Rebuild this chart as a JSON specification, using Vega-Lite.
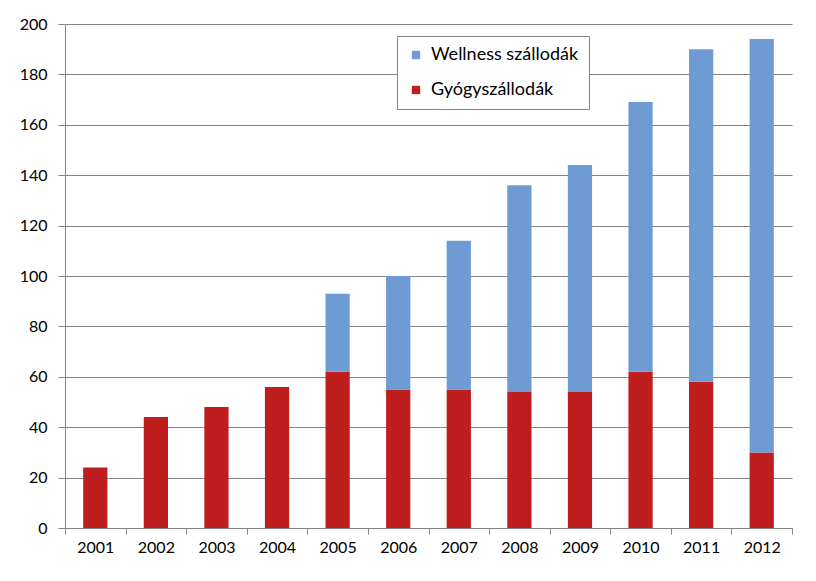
{
  "$schema": "https://vega.github.io/schema/vega-lite/v6.json",
  "autosize": "none",
  "width": 727,
  "height": 504,
  "padding": {"left": 65, "top": 24, "right": 24, "bottom": 53},
  "background": "white",
  "data": {
    "values": [
      {"year": "2001", "type": "Gyógyszállodák", "value": 24},
      {"year": "2002", "type": "Gyógyszállodák", "value": 44},
      {"year": "2003", "type": "Gyógyszállodák", "value": 48},
      {"year": "2004", "type": "Gyógyszállodák", "value": 56},
      {"year": "2005", "type": "Gyógyszállodák", "value": 62},
      {"year": "2006", "type": "Gyógyszállodák", "value": 55},
      {"year": "2007", "type": "Gyógyszállodák", "value": 55},
      {"year": "2008", "type": "Gyógyszállodák", "value": 54},
      {"year": "2009", "type": "Gyógyszállodák", "value": 54},
      {"year": "2010", "type": "Gyógyszállodák", "value": 62},
      {"year": "2011", "type": "Gyógyszállodák", "value": 58},
      {"year": "2012", "type": "Gyógyszállodák", "value": 30},
      {"year": "2005", "type": "Wellness szállodák", "value": 31},
      {"year": "2006", "type": "Wellness szállodák", "value": 45},
      {"year": "2007", "type": "Wellness szállodák", "value": 59},
      {"year": "2008", "type": "Wellness szállodák", "value": 82},
      {"year": "2009", "type": "Wellness szállodák", "value": 90},
      {"year": "2010", "type": "Wellness szállodák", "value": 107},
      {"year": "2011", "type": "Wellness szállodák", "value": 132},
      {"year": "2012", "type": "Wellness szállodák", "value": 164}
    ]
  },
  "mark": {"type": "bar", "width": {"band": 0.4}},
  "encoding": {
    "x": {
      "field": "year",
      "type": "ordinal",
      "scale": {"paddingInner": 0, "paddingOuter": 0},
      "axis": {
        "title": null,
        "labelAngle": 0,
        "tickBand": "extent",
        "domainColor": "#868686",
        "tickColor": "#868686",
        "tickSize": 6,
        "labelFont": "Lato",
        "labelFontSize": 16,
        "labelColor": "#000000",
        "labelPadding": 5
      }
    },
    "y": {
      "field": "value",
      "type": "quantitative",
      "stack": "zero",
      "scale": {"domain": [0, 200], "nice": false},
      "axis": {
        "title": null,
        "values": [0, 20, 40, 60, 80, 100, 120, 140, 160, 180, 200],
        "grid": true,
        "gridColor": "#868686",
        "domainColor": "#868686",
        "tickColor": "#868686",
        "tickSize": 7,
        "labelFont": "Lato",
        "labelFontSize": 16,
        "labelColor": "#000000",
        "labelPadding": 11
      }
    },
    "color": {
      "field": "type",
      "type": "nominal",
      "scale": {
        "domain": ["Wellness szállodák", "Gyógyszállodák"],
        "range": ["#6F9BD4", "#BE1E1E"]
      },
      "legend": {
        "title": null,
        "orient": "none",
        "legendX": 332,
        "legendY": 12,
        "symbolType": "square",
        "symbolSize": 70,
        "labelFont": "Lato",
        "labelFontSize": 18,
        "labelColor": "#000000",
        "labelOffset": 6,
        "rowPadding": 17,
        "padding": 10,
        "fillColor": "white",
        "strokeColor": "#868686",
        "labelLimit": 300
      }
    },
    "order": {"field": "type", "sort": "ascending"}
  },
  "config": {"view": {"stroke": null}}
}
